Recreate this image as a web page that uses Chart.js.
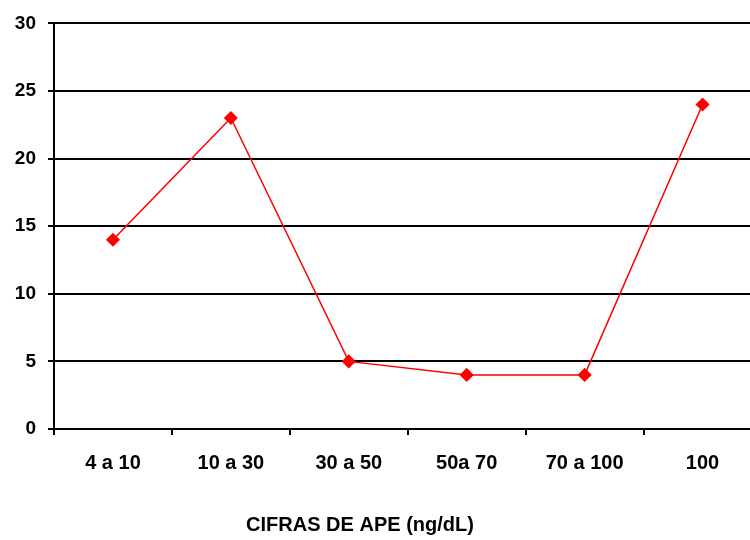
<!DOCTYPE html>
<html>
<head>
<meta charset="utf-8">
<script src="https://cdn.jsdelivr.net/npm/chart.js@4"></script>
<style>
  html, body { margin: 0; padding: 0; background: #fff; overflow: hidden; }
  #wrap { position: absolute; left: 0; top: 0; width: 769px; height: 540px; }
</style>
</head>
<body>
<div id="wrap"><canvas id="grafico"></canvas></div>
<script>
  const categorias = ["4 a 10", "10 a 30", "30 a 50", "50a 70", "70 a 100", "100"];
  const valores = [14, 23, 5, 4, 4, 24];
  const tituloEixoX = "CIFRAS DE APE (ng/dL)";

  const fonte = "'Liberation Sans', Arial, sans-serif";

  // titulo do eixo X fica deslocado para a esquerda no original
  const tituloX = {
    id: "tituloX",
    afterDraw(chart) {
      const ctx = chart.ctx;
      ctx.save();
      ctx.font = "bold 20px " + fonte;
      ctx.fillStyle = "#000";
      ctx.textAlign = "center";
      ctx.textBaseline = "middle";
      ctx.fillText(tituloEixoX, 360, 525);
      ctx.restore();
    }
  };

  new Chart(document.getElementById("grafico").getContext("2d"), {
    type: "line",
    data: {
      labels: categorias,
      datasets: [{
        data: valores,
        borderColor: "#ff0000",
        backgroundColor: "#ff0000",
        borderWidth: 1.5,
        pointStyle: "rectRot",
        pointRadius: 6,
        pointHoverRadius: 6,
        tension: 0
      }]
    },
    options: {
      responsive: true,
      maintainAspectRatio: false,
      animation: false,
      layout: { padding: { top: 22, right: 0, left: 0, bottom: 0 } },
      plugins: {
        legend: { display: false },
        tooltip: { enabled: false }
      },
      scales: {
        x: {
          offset: true,
          grid: {
            offset: true,
            drawOnChartArea: false,
            color: "#000",
            lineWidth: 2,
            tickLength: 6
          },
          border: { color: "#000", width: 2 },
          ticks: {
            color: "#000",
            padding: 16,
            font: { family: fonte, size: 20, weight: "bold" }
          },
          afterFit: function (scale) { scale.height = 111; }
        },
        y: {
          min: 0,
          max: 30,
          grid: {
            color: "#000",
            lineWidth: 2,
            tickLength: 6
          },
          border: { color: "#000", width: 2 },
          ticks: {
            stepSize: 5,
            color: "#000",
            padding: 12,
            font: { family: fonte, size: 19, weight: "bold" }
          },
          afterFit: function (scale) { scale.width = 54; }
        }
      }
    },
    plugins: [tituloX]
  });
</script>
</body>
</html>
